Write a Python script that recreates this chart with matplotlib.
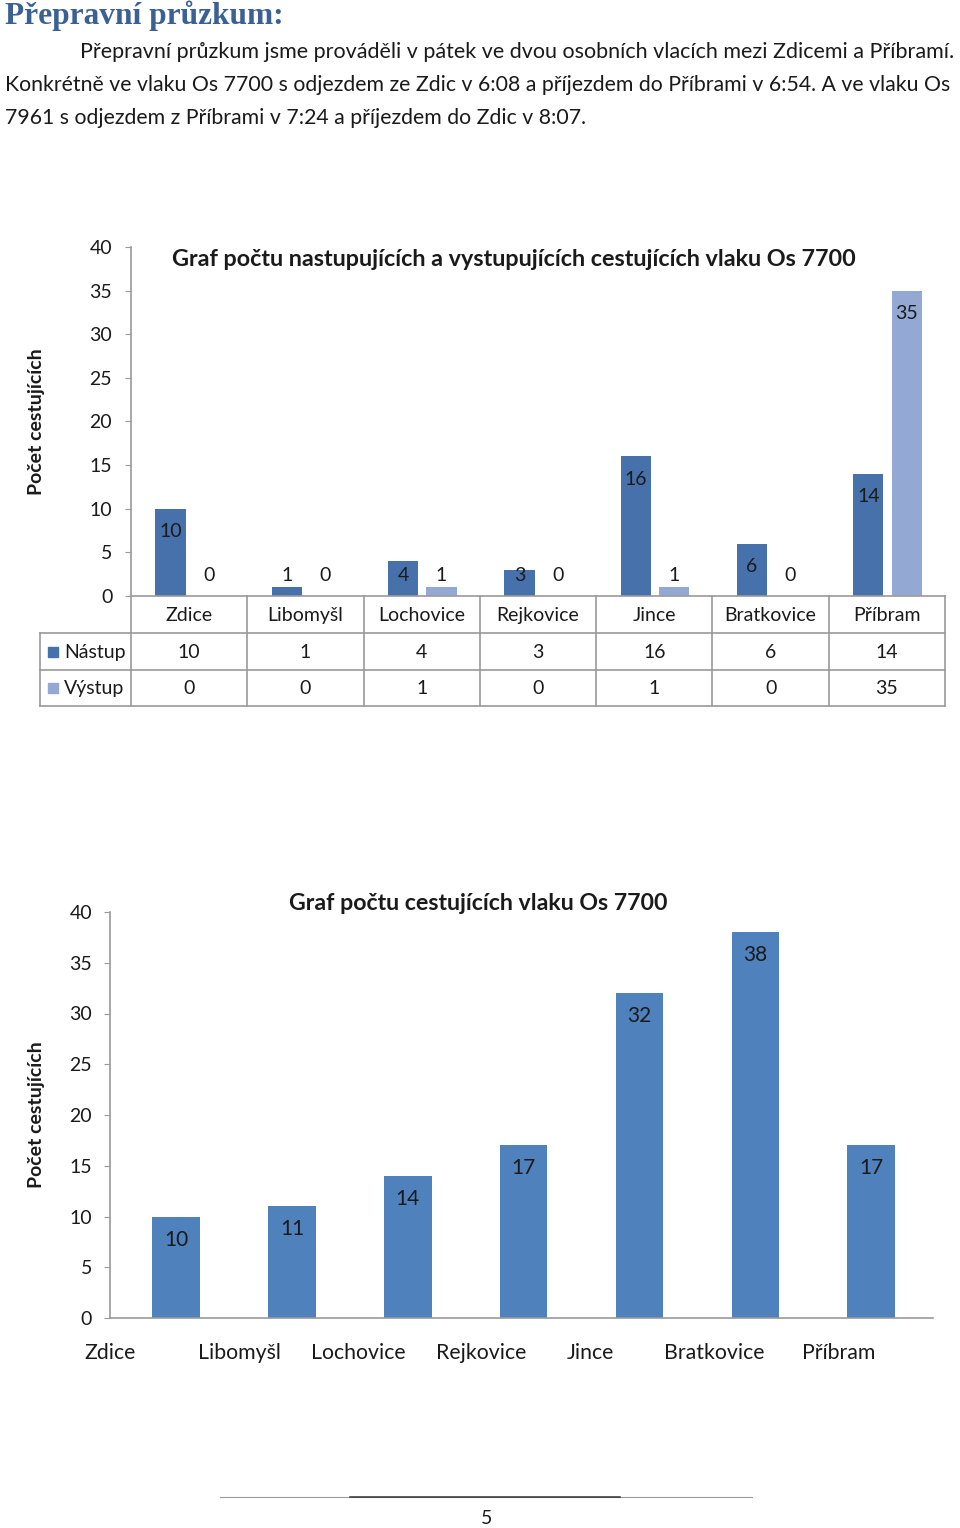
import numpy as np
import matplotlib
matplotlib.use('Agg')
import matplotlib.pyplot as plt
from matplotlib.lines import Line2D

plt.rcParams['font.family'] = ['Lato', 'DejaVu Sans']

# data
stanice = ['Zdice', 'Libomyšl', 'Lochovice', 'Rejkovice', 'Jince', 'Bratkovice', 'Příbram']
nastup = [10, 1, 4, 3, 16, 6, 14]
vystup = [0, 0, 1, 0, 1, 0, 35]
cestujici = [10, 11, 14, 17, 32, 38, 17]
yticks = [0, 5, 10, 15, 20, 25, 30, 35, 40]

nadpis = 'Přepravní průzkum:'
odstavec = ['Přepravní průzkum jsme prováděli v pátek ve dvou osobních vlacích mezi Zdicemi a Příbramí.',
            'Konkrétně ve vlaku Os 7700 s odjezdem ze Zdic v 6:08 a příjezdem do Příbrami v 6:54. A ve vlaku Os',
            '7961 s odjezdem z Příbrami v 7:24 a příjezdem do Zdic v 8:07.']
titul1 = 'Graf počtu nastupujících a vystupujících cestujících vlaku Os 7700'
titul2 = 'Graf počtu cestujících vlaku Os 7700'
ylab = 'Počet cestujících'

c_nastup = '#4671aa'
c_vystup = '#93a9d3'
c_bar2 = '#4f81bd'
c_grid = '#9a9a9a'
c_text = '#1a1a1a'

W, H = 960, 1528
fig = plt.figure(figsize=(W / 100, H / 100), dpi=100)

def fx(x):
    return x / W

def fy(y):
    return 1 - y / H

# page text
fig.text(fx(5), fy(16), nadpis, family='Liberation Serif', fontweight='bold',
         fontsize=22.6, color='#3a6094', va='center')
fig.text(fx(80), fy(52), odstavec[0], fontsize=15.45, color=c_text, va='center')
fig.text(fx(5), fy(85), odstavec[1], fontsize=15.3, color=c_text, va='center')
fig.text(fx(5), fy(118), odstavec[2], fontsize=15.3, color=c_text, va='center')

# ---- chart 1 ----
ax1 = fig.add_axes([fx(131), fy(596), (945 - 131) / W, (596 - 247) / H])
x = np.arange(len(stanice))
ax1.bar(x - 0.16, nastup, 0.26, color=c_nastup)
ax1.bar(x + 0.17, vystup, 0.26, color=c_vystup)
ax1.set_xlim(-0.5, 6.5)
ax1.set_ylim(0, 40)
ax1.set_yticks(yticks)
ax1.set_xticks([])
ax1.tick_params(axis='y', direction='out', length=4.5, color=c_grid, labelsize=14,
                pad=9, labelcolor=c_text)
for s in ['top', 'right']:
    ax1.spines[s].set_visible(False)
for s in ['left', 'bottom']:
    ax1.spines[s].set_color(c_grid)
    ax1.spines[s].set_linewidth(1.2)

for i in range(len(stanice)):
    ax1.text(i - 0.16, max(nastup[i] - 2.64, 2.4), str(nastup[i]), ha='center', va='center',
             fontsize=14, color=c_text)
    ax1.text(i + 0.17, max(vystup[i] - 2.64, 2.4), str(vystup[i]), ha='center', va='center',
             fontsize=14, color=c_text)

ax1.set_ylabel(ylab, fontweight='bold', fontsize=14, color=c_text)
ax1.yaxis.set_label_coords((45 - 131) / 814, 0.5)
fig.text(fx(514), fy(260), titul1, fontweight='bold', fontsize=16.8, ha='center', va='center',
         color=c_text)

# data table under chart 1
tr = ax1.get_xaxis_transform()
def ya(py):
    return -(py - 596) / 349.0
xl = -0.5 - 91 / 116.3
for b in np.arange(-0.5, 7):
    ax1.plot([b, b], [0, ya(706)], transform=tr, clip_on=False, color=c_grid, lw=1.2)
ax1.plot([xl, xl], [ya(633), ya(706)], transform=tr, clip_on=False, color=c_grid, lw=1.2)
for py in [633, 670, 706]:
    ax1.plot([xl, 6.5], [ya(py), ya(py)], transform=tr, clip_on=False, color=c_grid, lw=1.2)
for i, s in enumerate(stanice):
    ax1.text(i, ya(616), s, transform=tr, ha='center', va='center', fontsize=14, color=c_text)
    ax1.text(i, ya(653), str(nastup[i]), transform=tr, ha='center', va='center', fontsize=14, color=c_text)
    ax1.text(i, ya(689), str(vystup[i]), transform=tr, ha='center', va='center', fontsize=14, color=c_text)
for py, nazev, c in [(652, 'Nástup', c_nastup), (688, 'Výstup', c_vystup)]:
    ax1.plot([-0.5 + (53 - 131) / 116.3], [ya(py)], 's', transform=tr, clip_on=False,
             color=c, markersize=7)
    ax1.text(-0.5 + (64 - 131) / 116.3, ya(py + 1), nazev, transform=tr, ha='left', va='center',
             fontsize=14, color=c_text)

# ---- chart 2 ----
ax2 = fig.add_axes([fx(110), fy(1318), (933 - 110) / W, (1318 - 912) / H])
ax2.bar(x, cestujici, 0.41, color=c_bar2)
ax2.set_xlim(-0.485, 6.535)
ax2.set_ylim(0, 40)
ax2.set_yticks(yticks)
ax2.tick_params(axis='y', direction='out', length=4, color=c_grid, labelsize=14,
                pad=9, labelcolor=c_text)
# category labels sit offset from the bars in the original
popisky_x = [-0.572, 0.546, 1.570, 2.637, 3.575, 4.650, 5.717]
ax2.set_xticks(popisky_x, stanice)
ax2.tick_params(axis='x', length=0, labelsize=15.3, pad=18, labelcolor=c_text)
for s in ['top', 'right']:
    ax2.spines[s].set_visible(False)
for s in ['left', 'bottom']:
    ax2.spines[s].set_color(c_grid)
    ax2.spines[s].set_linewidth(1.2)
for i, v in enumerate(cestujici):
    ax2.text(i, v - 2.27, str(v), ha='center', va='center', fontsize=15, color=c_text)
ax2.set_ylabel(ylab, fontweight='bold', fontsize=14, color=c_text)
ax2.yaxis.set_label_coords((45 - 110) / 823, 0.5)
fig.text(fx(478), fy(904), titul2, fontweight='bold', fontsize=16.7, ha='center', va='center',
         color=c_text)

# footer
fig.add_artist(Line2D([fx(220), fx(752)], [fy(1497), fy(1497)], color='#999999', lw=0.8))
fig.add_artist(Line2D([fx(350), fx(620)], [fy(1497), fy(1497)], color='#333333', lw=1.1))
fig.text(fx(487), fy(1519), '5', fontsize=14, ha='center', va='center', color=c_text)

fig.savefig('out.png', dpi=100)
